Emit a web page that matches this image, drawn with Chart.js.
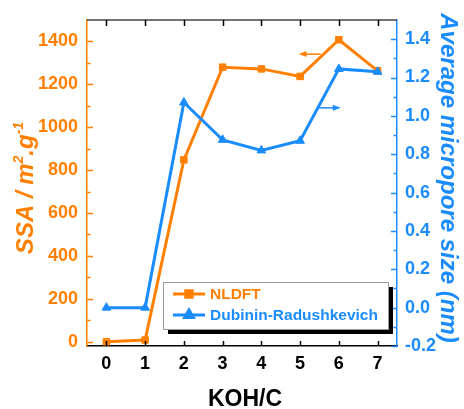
<!DOCTYPE html>
<html><head><meta charset="utf-8">
<script src="https://cdn.jsdelivr.net/npm/chart.js@4/dist/chart.umd.min.js"></script>
<style>html,body{margin:0;padding:0;background:#fff}canvas{display:block}</style>
</head><body>
<canvas id="c" width="464" height="409"></canvas>
<script>
const categories = [0, 1, 2, 3, 4, 5, 6, 7];
const nldftSSA = [0, 8, 848, 1280, 1272, 1237, 1408, 1263];
const drSize = [0.0, 0.0, 1.07, 0.875, 0.82, 0.87, 1.245, 1.23];
const xTickLabels = [0, 1, 2, 3, 4, 5, 6, 7];
const ssaTicks = [0, 200, 400, 600, 800, 1000, 1200, 1400];
const sizeTicks = [-0.2, 0.0, 0.2, 0.4, 0.6, 0.8, 1.0, 1.2, 1.4];
const seriesNames = ['NLDFT', 'Dubinin-Radushkevich'];
const xTitle = 'KOH/C';
const rightTitle = 'Average micropore size (nm)';

const ORANGE = '#FF8000', BLUE = '#1A8CFF';
const FONT = '"Liberation Sans", Arial, Helvetica, sans-serif';
// arrow annotations (data coordinates)
const arrows = [
  {x0: 5.53, x1: 4.96, y: 1341, axis: 'y', color: ORANGE},
  {x0: 5.48, x1: 6.05, y: 1.042, axis: 'y1', color: BLUE}
];

function drawArrow(ctx, x0, x1, y, color) {
  ctx.strokeStyle = color; ctx.fillStyle = color; ctx.lineWidth = 1.5;
  const dir = Math.sign(x1 - x0);
  ctx.beginPath(); ctx.moveTo(x0, y); ctx.lineTo(x1 - dir * 6, y); ctx.stroke();
  ctx.beginPath(); ctx.moveTo(x1, y); ctx.lineTo(x1 - dir * 8, y - 3); ctx.lineTo(x1 - dir * 8, y + 3); ctx.closePath(); ctx.fill();
}

const decor = {
  id: 'decor',
  afterDatasetsDraw(chart) {
    const {ctx, chartArea: a, scales} = chart;
    const x = scales.x, yl = scales.y, yr = scales.y1;
    ctx.save();
    // top frame
    ctx.strokeStyle = '#444'; ctx.lineWidth = 1.5;
    ctx.beginPath(); ctx.moveTo(a.left, a.top); ctx.lineTo(a.right, a.top); ctx.stroke();
    // x ticks (inward, top and bottom)
    ctx.strokeStyle = '#000'; ctx.lineWidth = 1.5;
    xTickLabels.forEach(v => {
      const p = Math.round(x.getPixelForValue(v)) + 0.5;
      ctx.beginPath();
      ctx.moveTo(p, a.bottom); ctx.lineTo(p, a.bottom - 5);
      ctx.moveTo(p, a.top); ctx.lineTo(p, a.top + 6);
      ctx.stroke();
    });
    // y ticks (inward)
    function yTicks(scale, ticks, color, edge, dir) {
      ctx.strokeStyle = color; ctx.lineWidth = 1.5;
      const step = ticks[1] - ticks[0];
      ticks.forEach(v => {
        const p = Math.round(scale.getPixelForValue(v)) + 0.5;
        ctx.beginPath(); ctx.moveTo(edge, p); ctx.lineTo(edge + dir * 6, p); ctx.stroke();
        const m = v + step / 2;
        if (m < scale.max - step * 0.1) {
          const q = Math.round(scale.getPixelForValue(m)) + 0.5;
          ctx.beginPath(); ctx.moveTo(edge, q); ctx.lineTo(edge + dir * 3.5, q); ctx.stroke();
        }
      });
    }
    yTicks(yl, ssaTicks, ORANGE, a.left, 1);
    yTicks(yr, sizeTicks, BLUE, a.right, -1);
    // arrows
    arrows.forEach(ar => {
      const s = scales[ar.axis];
      drawArrow(ctx, x.getPixelForValue(ar.x0), x.getPixelForValue(ar.x1), s.getPixelForValue(ar.y), ar.color);
    });
    // legend
    const lx = 163, ly = 282, lw = 225, lh = 47;
    ctx.fillStyle = '#000'; ctx.fillRect(lx + 5, ly + 5, lw, lh);
    ctx.fillStyle = '#fff'; ctx.fillRect(lx, ly, lw, lh);
    ctx.strokeStyle = '#999'; ctx.lineWidth = 1; ctx.strokeRect(lx + 0.5, ly + 0.5, lw, lh);
    const ds = chart.data.datasets;
    [[ds[0], 294], [ds[1], 315]].forEach(([d, yy], i) => {
      ctx.strokeStyle = d.borderColor; ctx.fillStyle = d.borderColor; ctx.lineWidth = 3;
      ctx.beginPath(); ctx.moveTo(173, yy); ctx.lineTo(205, yy); ctx.stroke();
      Chart.helpers.drawPoint(ctx, {pointStyle: d.pointStyle, radius: d.pointRadius, borderWidth: 1, rotation: 0}, 189, yy);
      ctx.fill();
      ctx.font = 'bold 15.5px ' + FONT; ctx.textBaseline = 'middle'; ctx.textAlign = 'left';
      ctx.fillStyle = d.borderColor;
      ctx.fillText(d.label, 210, yy + 1);
    });
    ctx.restore();
  },
  afterDraw(chart) {
    const {ctx, chartArea: a} = chart;
    ctx.save();
    // x title
    ctx.fillStyle = '#000'; ctx.font = 'bold 23px ' + FONT;
    ctx.textAlign = 'center'; ctx.textBaseline = 'alphabetic';
    ctx.fillText(xTitle, (a.left + a.right) / 2 + 3, 406);
    // right title
    ctx.save();
    ctx.translate(441, 178); ctx.rotate(Math.PI / 2);
    ctx.fillStyle = BLUE; ctx.font = 'italic bold 24px ' + FONT;
    ctx.textAlign = 'center'; ctx.textBaseline = 'alphabetic';
    ctx.fillText(rightTitle, 0, 0);
    ctx.restore();
    // left title with superscripts
    ctx.save();
    ctx.translate(33, 188); ctx.rotate(-Math.PI / 2);
    ctx.fillStyle = ORANGE; ctx.textAlign = 'left'; ctx.textBaseline = 'alphabetic';
    const big = 'italic bold 24px ' + FONT, small = 'italic bold 14px ' + FONT;
    const parts = [['SSA / m', big, 0], ['2', small, -10], ['.g', big, 0], ['-1', small, -10]];
    let total = 0;
    parts.forEach(p => { ctx.font = p[1]; total += ctx.measureText(p[0]).width; });
    let cx = -total / 2;
    parts.forEach(p => { ctx.font = p[1]; ctx.fillText(p[0], cx, p[2]); cx += ctx.measureText(p[0]).width; });
    ctx.restore();
    ctx.restore();
  }
};

const tickFont = {family: FONT, size: 18, weight: 'bold'};

new Chart(document.getElementById('c'), {
  type: 'line',
  data: {
    datasets: [
      {
        label: seriesNames[0],
        data: categories.map((c, i) => ({x: c, y: nldftSSA[i]})),
        yAxisID: 'y', borderColor: ORANGE, backgroundColor: ORANGE,
        pointBackgroundColor: ORANGE, pointBorderColor: ORANGE,
        borderWidth: 3, pointStyle: 'rect', pointRadius: 4.6, pointBorderWidth: 1,
        tension: 0, order: 1
      },
      {
        label: seriesNames[1],
        data: categories.map((c, i) => ({x: c, y: drSize[i]})),
        yAxisID: 'y1', borderColor: BLUE, backgroundColor: BLUE,
        pointBackgroundColor: BLUE, pointBorderColor: BLUE,
        borderWidth: 3, pointStyle: 'triangle', pointRadius: 5, pointBorderWidth: 1,
        tension: 0, order: 0
      }
    ]
  },
  options: {
    responsive: false, animation: false, devicePixelRatio: 1,
    layout: {padding: {top: 20, left: 0, right: 0, bottom: 0}},
    plugins: {legend: {display: false}, tooltip: {enabled: false}},
    scales: {
      x: {
        type: 'linear', position: 'bottom', min: -0.5, max: 7.5,
        afterBuildTicks: s => { s.ticks = xTickLabels.map(v => ({value: v})); },
        afterFit: s => { s.height = 63; },
        grid: {display: false, drawTicks: false},
        border: {display: true, color: '#000', width: 1.5},
        ticks: {color: '#000', font: tickFont, padding: 7, maxRotation: 0, callback: v => String(v)}
      },
      y: {
        type: 'linear', position: 'left', min: -20, max: 1500,
        afterBuildTicks: s => { s.ticks = ssaTicks.map(v => ({value: v})); },
        afterFit: s => { s.width = 87; },
        grid: {display: false, drawTicks: false},
        border: {display: true, color: ORANGE, width: 1.5},
        ticks: {color: ORANGE, font: tickFont, padding: 9, callback: v => String(v)}
      },
      y1: {
        type: 'linear', position: 'right', min: -0.2, max: 1.5,
        afterBuildTicks: s => { s.ticks = sizeTicks.map(v => ({value: v})); },
        afterFit: s => { s.width = 67; },
        grid: {display: false, drawTicks: false},
        border: {display: true, color: BLUE, width: 1.5},
        ticks: {color: BLUE, font: tickFont, padding: 8, callback: v => Number(v).toFixed(1)}
      }
    }
  },
  plugins: [decor]
});
</script>
</body></html>
